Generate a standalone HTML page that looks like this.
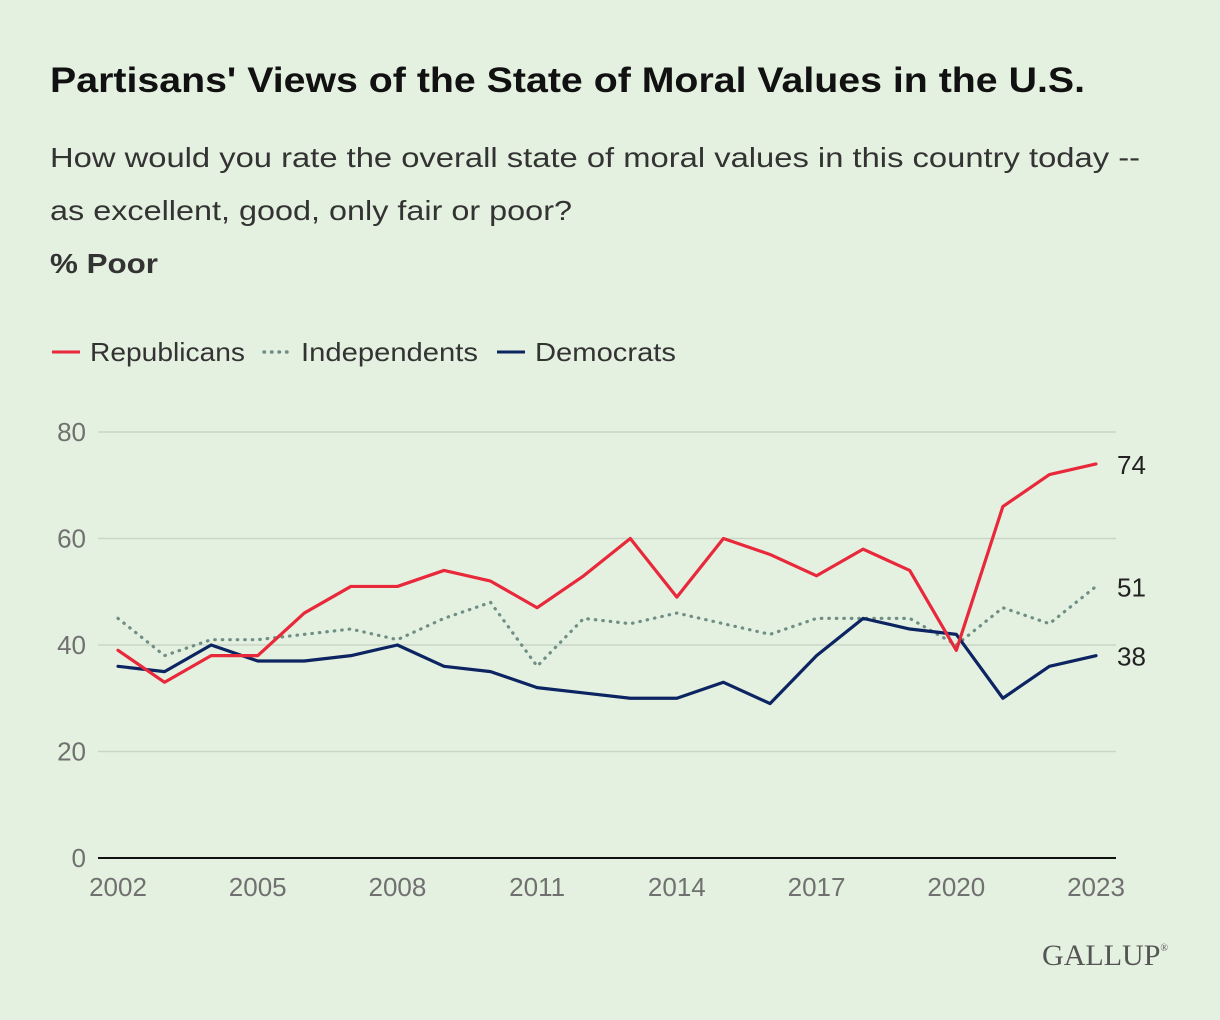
<!DOCTYPE html>
<html><head><meta charset="utf-8"><style>
body{margin:0;width:1220px;height:1020px;background:#e5f1e0;font-family:"Liberation Sans",sans-serif;overflow:hidden}
</style></head><body>
<svg width="1220" height="1020" style="position:absolute;left:0;top:0">
<text x="50" y="92" font-size="35" font-weight="bold" fill="#111" textLength="1035" lengthAdjust="spacingAndGlyphs">Partisans' Views of the State of Moral Values in the U.S.</text>
<text x="50" y="167" font-size="28" fill="#333" textLength="1090" lengthAdjust="spacingAndGlyphs">How would you rate the overall state of moral values in this country today --</text>
<text x="50" y="220" font-size="28" fill="#333" textLength="522" lengthAdjust="spacingAndGlyphs">as excellent, good, only fair or poor?</text>
<text x="50" y="273" font-size="28" font-weight="bold" fill="#333" textLength="108" lengthAdjust="spacingAndGlyphs">% Poor</text>
<g>
<line x1="52" y1="352" x2="80" y2="352" stroke="#e8283b" stroke-width="3"/>
<text x="90" y="361" font-size="26" fill="#333" textLength="155" lengthAdjust="spacingAndGlyphs">Republicans</text>
<line x1="264" y1="352" x2="292" y2="352" stroke="#6f8f86" stroke-width="3.5" stroke-dasharray="0.5,7" stroke-linecap="round"/>
<text x="301" y="361" font-size="26" fill="#333" textLength="177" lengthAdjust="spacingAndGlyphs">Independents</text>
<line x1="497" y1="352" x2="525" y2="352" stroke="#0c2461" stroke-width="3"/>
<text x="535" y="361" font-size="26" fill="#333" textLength="141" lengthAdjust="spacingAndGlyphs">Democrats</text>
</g>
<g id="plot"></g>
<text x="1168" y="965" font-size="30" font-family="Liberation Serif,serif" fill="#555" text-anchor="end">GALLUP<tspan font-size="10" dy="-14">®</tspan></text>
</svg>
<script>
const years=[2002,2003,2004,2005,2006,2007,2008,2009,2010,2011,2012,2013,2014,2015,2016,2017,2018,2019,2020,2021,2022,2023];
const republicans=[39,33,38,38,46,51,51,54,52,47,53,60,49,60,57,53,58,54,39,66,72,74];
const independents=[45,38,41,41,42,43,41,45,48,36,45,44,46,44,42,45,45,45,40,47,44,51];
const democrats=[36,35,40,37,37,38,40,36,35,32,31,30,30,33,29,38,45,43,42,30,36,38];
const yTicks=[0,20,40,60,80];
const xTicks=[2002,2005,2008,2011,2014,2017,2020,2023];
const NS='http://www.w3.org/2000/svg';
const g=document.getElementById('plot');
const x=v=>118+(v-2002)*(1096-118)/21;
const y=v=>858-v*(858-432)/80;
function mk(t,a){const e=document.createElementNS(NS,t);for(const k in a)e.setAttribute(k,a[k]);g.appendChild(e);return e;}
yTicks.forEach(t=>{
 const l=mk('line',{x1:98,x2:1116,y1:y(t),y2:y(t),stroke:t===0?'#111':'#c9d6c6','stroke-width':t===0?2:1.5});
 
 
 const tx=mk('text',{x:86,y:y(t)+9,'font-size':26,fill:'#707070','text-anchor':'end'});tx.textContent=t;
 
 
});
xTicks.forEach(t=>{
 const tx=mk('text',{x:x(t),y:896,'font-size':26,fill:'#707070','text-anchor':'middle'});tx.textContent=t;
 
 
});
function series(vals,color,dash,name){
 const p=mk('polyline',{points:vals.map((v,i)=>x(years[i])+','+y(v)).join(' '),fill:'none',stroke:color,'stroke-width':3.2,'stroke-linejoin':'round','stroke-linecap':'round'});
 if(dash)p.setAttribute('stroke-dasharray',dash);
 
 
 const last=vals[vals.length-1];
 const t=mk('text',{x:1117,y:y(last)+10,'font-size':26,fill:'#222'});t.textContent=last;
 
 
}
series(independents,'#6f8f86','0.5,7','independents');
series(democrats,'#0c2461',null,'democrats');
series(republicans,'#e8283b',null,'republicans');
</script>
</body></html>
